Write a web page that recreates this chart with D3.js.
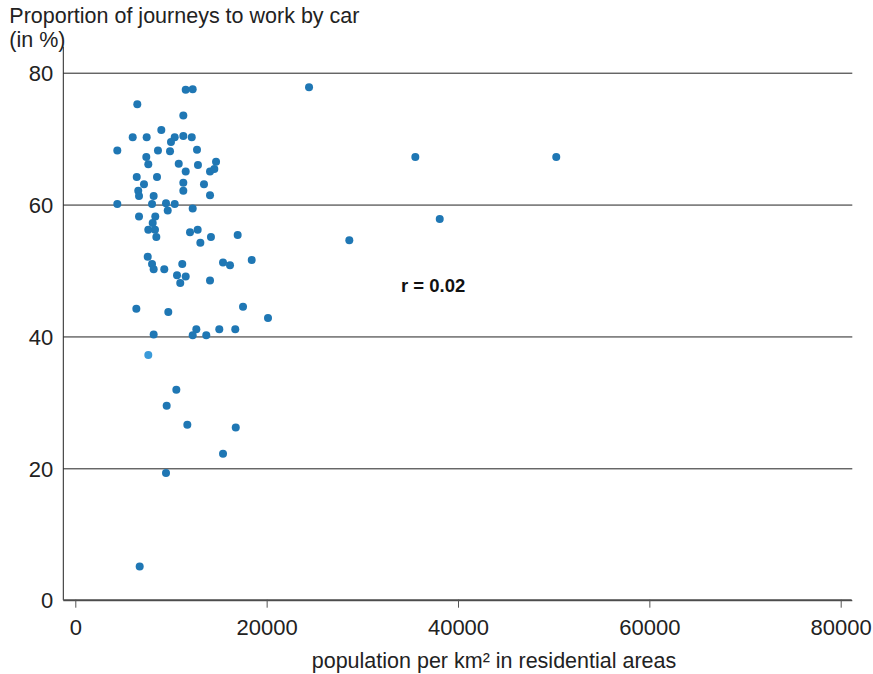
<!DOCTYPE html>
<html>
<head>
<meta charset="utf-8">
<script src="https://cdn.jsdelivr.net/npm/d3@7"></script>
<style>
  html, body { margin: 0; padding: 0; background: #fff; }
  svg { display: block; font-family: "Liberation Sans", Arial, sans-serif; }
</style>
</head>
<body>
<svg id="chart" width="873" height="674"></svg>
<script>
// population per km² in residential areas
const density = [
  11540, 12270, 6480, 11290, 8990, 6000, 7460, 11290, 10390, 10000,
  12170, 4390, 8640, 9900, 12720, 7420, 7630, 10810, 14710, 11540,
  12820, 14080, 14530, 6420, 8540, 7180, 11290, 13450, 6580, 6660,
  8190, 11290, 14080, 4390, 8020, 9480, 10390, 9660, 12270, 6660,
  8360, 8090, 7630, 8330, 8470, 11990, 12790, 13070, 14180, 16970,
  7570, 8020, 8190, 9300, 11180, 10630, 11540, 10970, 14080, 15440,
  16170, 18440, 6380, 9720, 17530, 20140, 12650, 15050, 16720, 8190,
  12270, 13690, 10560, 9550, 11710, 16770, 15440, 9480, 6730, 24430,
  35540, 50270, 38090, 28640
];
// proportion of journeys to work by car (in %)
const carShare = [
  77.4, 77.5, 75.2, 73.5, 71.3, 70.2, 70.2, 70.4, 70.2, 69.5,
  70.2, 68.2, 68.2, 68.1, 68.3, 67.2, 66.1, 66.2, 66.5, 65.0,
  66.0, 65.0, 65.4, 64.2, 64.2, 63.1, 63.3, 63.1, 62.1, 61.3,
  61.3, 62.1, 61.4, 60.1, 60.1, 60.2, 60.1, 59.1, 59.4, 58.2,
  58.2, 57.2, 56.2, 56.2, 55.1, 55.8, 56.2, 54.2, 55.1, 55.4,
  52.1, 51.0, 50.2, 50.2, 51.0, 49.3, 49.1, 48.1, 48.5, 51.2,
  50.8, 51.6, 44.2, 43.7, 44.5, 42.8, 41.1, 41.1, 41.1, 40.3,
  40.2, 40.2, 31.9, 29.5, 26.6, 26.2, 22.2, 19.3, 5.1, 77.8,
  67.2, 67.2, 57.8, 54.6
];
// the one lighter-coloured point
const otherDensity = [7630];
const otherShare = [37.2];

const xTicks = [0, 20000, 40000, 60000, 80000];
const yTicks = [0, 20, 40, 60, 80];
const yTitle = ["Proportion of journeys to work by car", "(in %)"];
const xTitle = "population per km² in residential areas";
const rLabel = "r = 0.02";

(function () {
const svg = d3.select("#chart");
const left = 63.3, right = 852.3, bottom = 600.2, axisTop = 46.7;

const x = d3.scaleLinear().domain([0, 80000]).range([75.3, 840.7]);
const y = d3.scaleLinear().domain([0, 80]).range([bottom, 72.7]);

// horizontal gridlines + y labels
const gy = svg.append("g")
  .attr("transform", `translate(${left},0)`)
  .call(d3.axisLeft(y).tickValues(yTicks).tickSize(-(right - left)).tickPadding(10).tickFormat(d3.format("d")));
gy.select(".domain").remove();
gy.selectAll(".tick line").attr("stroke", "#222").attr("stroke-width", 1);
gy.selectAll(".tick text")
  .attr("fill", "#222").style("font-size", "22px").attr("dy", "0.35em");

// y axis line
svg.append("line")
  .attr("x1", left).attr("x2", left).attr("y1", axisTop).attr("y2", bottom)
  .attr("stroke", "#222").attr("stroke-width", 1);

// x axis
const gx = svg.append("g")
  .attr("transform", `translate(0,${bottom - 0.5})`)
  .call(d3.axisBottom(x).tickValues(xTicks).tickSize(8).tickPadding(12).tickFormat(d3.format("d")));
gx.select(".domain").remove();
gx.selectAll(".tick line").attr("stroke", "#555");
gx.selectAll(".tick text").attr("fill", "#222").style("font-size", "22px");
svg.append("line")
  .attr("x1", left).attr("x2", 851.7).attr("y1", bottom - 0.5).attr("y2", bottom - 0.5)
  .attr("stroke", "#555").attr("stroke-width", 1);

// points
const pts = density.map((d, i) => ({ x: d, y: carShare[i] }));
svg.append("g").selectAll("circle").data(pts).join("circle")
  .attr("cx", d => x(d.x)).attr("cy", d => y(d.y)).attr("r", 4)
  .attr("fill", "#1f77b4");
const other = otherDensity.map((d, i) => ({ x: d, y: otherShare[i] }));
svg.append("g").selectAll("circle").data(other).join("circle")
  .attr("cx", d => x(d.x)).attr("cy", d => y(d.y)).attr("r", 4)
  .attr("fill", "#3a9ad9");

// titles
svg.append("text").attr("x", 9.3).attr("y", 23).attr("fill", "#222")
  .style("font-size", "21.5px").text(yTitle[0]);
svg.append("text").attr("x", 9.3).attr("y", 47).attr("fill", "#222")
  .style("font-size", "21.5px").text(yTitle[1]);
svg.append("text").attr("x", 494).attr("y", 668).attr("text-anchor", "middle")
  .attr("fill", "#222").style("font-size", "21.5px").text(xTitle);

// correlation label
svg.append("text").attr("x", x(37400)).attr("y", 291.5).attr("text-anchor", "middle")
  .attr("fill", "#111").style("font-size", "18.5px").style("font-weight", "bold").text(rLabel);
})();
</script>
</body>
</html>
